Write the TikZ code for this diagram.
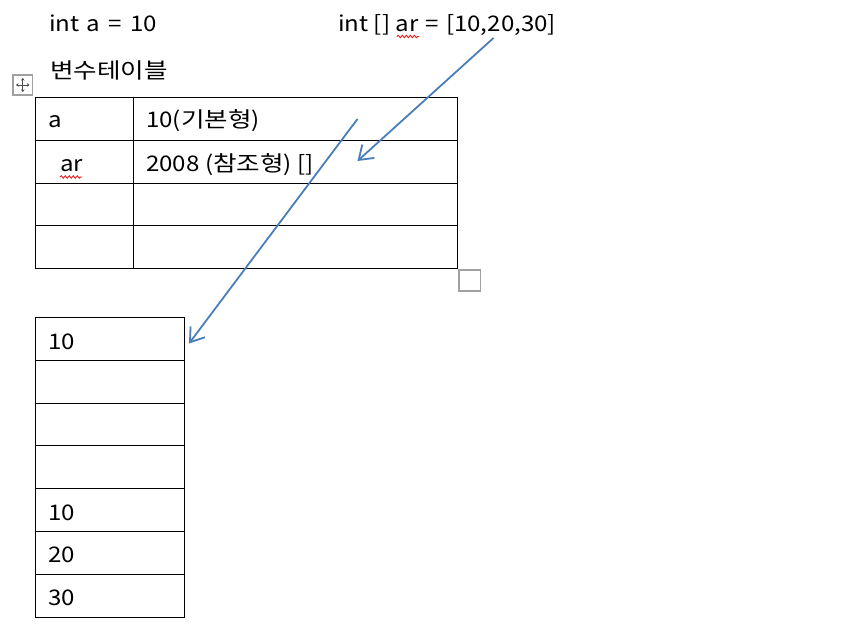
\documentclass[tikz,border=0pt]{standalone}
\usepackage{fontspec}
\setmainfont[FakeStretch=1.12]{Noto Sans CJK KR}
\newfontfamily\kor[FakeStretch=1.19]{Noto Sans CJK KR}
\usetikzlibrary{arrows.meta,decorations.pathmorphing}
\definecolor{arrowblue}{RGB}{74,126,187}
\definecolor{uigray}{RGB}{160,160,160}
\definecolor{squig}{RGB}{230,20,20}
\begin{document}
\begin{tikzpicture}[x=1pt,y=-1pt,
  cellbox/.style={draw=black,line width=1pt,rectangle,inner sep=0pt,anchor=north west},
  txt/.style={anchor=base west,inner sep=0pt,font=\fontsize{21.5}{26}\selectfont},
  ptr/.style={draw=arrowblue,line width=1.8pt,-{Straight Barb[length=13pt,width=18pt]}},
  spell/.style={draw=squig,line width=0.8pt,decorate,decoration={snake,amplitude=1.3pt,segment length=4pt}},
  uibox/.style={draw=uigray,line width=1.6pt}]
\useasboundingbox (0,0) rectangle (841,634);
\fill[white] (0,0) rectangle (841,634);

% top texts
\node[txt] (decla) at (49,32) {int\hspace{0.32em}a\hspace{0.38em}=\hspace{0.40em}10};
\node[txt] (declar) at (338,32) {int [] ar\hspace{0.08em} =\hspace{0.08em} [10,20,30]};
\node[txt] (title) at (50,78) {\kor 변수테이블};

% variable table
\node[cellbox,minimum width=98pt,minimum height=43pt] (v11) at (35,97) {};
\node[cellbox,minimum width=324pt,minimum height=43pt] (v12) at (133,97) {};
\node[cellbox,minimum width=98pt,minimum height=43pt] (v21) at (35,140) {};
\node[cellbox,minimum width=324pt,minimum height=43pt] (v22) at (133,140) {};
\node[cellbox,minimum width=98pt,minimum height=42pt] (v31) at (35,183) {};
\node[cellbox,minimum width=324pt,minimum height=42pt] (v32) at (133,183) {};
\node[cellbox,minimum width=98pt,minimum height=43pt] (v41) at (35,225) {};
\node[cellbox,minimum width=324pt,minimum height=43pt] (v42) at (133,225) {};

\node[txt] (ta) at (48,128) {a};
\node[txt] (tav) at (146,128) {10({\kor 기본형})};
\node[txt] (tar) at (60,171) {ar};
\node[txt] (tarv) at (146,171) {2008 ({\kor 참조형}) []};

% heap array
\node[cellbox,minimum width=149pt,minimum height=43pt] (h1) at (35,317) {};
\node[cellbox,minimum width=149pt,minimum height=43pt] (h2) at (35,360) {};
\node[cellbox,minimum width=149pt,minimum height=42pt] (h3) at (35,403) {};
\node[cellbox,minimum width=149pt,minimum height=43pt] (h4) at (35,445) {};
\node[cellbox,minimum width=149pt,minimum height=43pt] (h5) at (35,488) {};
\node[cellbox,minimum width=149pt,minimum height=43pt] (h6) at (35,531) {};
\node[cellbox,minimum width=149pt,minimum height=43pt] (h7) at (35,574) {};

\node[txt] (th1) at (48,349) {10};
\node[txt] (th5) at (48,520) {10};
\node[txt] (th6) at (48,562) {20};
\node[txt] (th7) at (48,605) {30};

% spelling squiggles
\coordinate (sq1a) at (397,36.5);
\coordinate (sq1b) at (419,36.5);
\coordinate (sq2a) at (60,177);
\coordinate (sq2b) at (82,177);
\draw[spell] (sq1a) -- (sq1b);
\draw[spell] (sq2a) -- (sq2b);

% arrows
\coordinate (a1s) at (493.5,38);
\coordinate (a1e) at (357.5,161);
\coordinate (a2s) at (357.5,119);
\coordinate (a2e) at (189,343.5);
\draw[ptr] (a1s) -- (a1e);
\draw[ptr] (a2s) -- (a2e);

% UI handles
\draw[uibox] (13,75) rectangle (32.5,95);
\coordinate (mc) at (22.75,85);
\draw[line width=0.9pt,draw=black!70,{Stealth[length=2.5pt,width=3.5pt]}-{Stealth[length=2.5pt,width=3.5pt]}] (16,85) -- (29.5,85);
\draw[line width=0.9pt,draw=black!70,{Stealth[length=2.5pt,width=3.5pt]}-{Stealth[length=2.5pt,width=3.5pt]}] (22.75,78) -- (22.75,92);
\draw[uibox] (459,270) rectangle (480.5,291);
\end{tikzpicture}
\end{document}
